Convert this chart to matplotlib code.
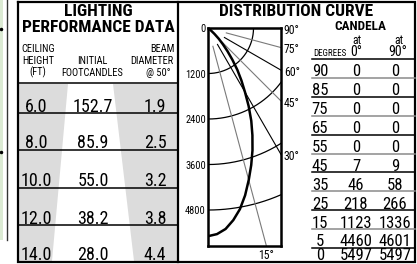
import numpy as np
import matplotlib
matplotlib.use("Agg")
import matplotlib.pyplot as plt
from matplotlib import font_manager as fm

# pick the narrowest sans that is installed
entries = fm.fontManager.ttflist
names = {f.name for f in entries}
FAM, STRETCH, K = 'Liberation Sans', 'normal', 0.88
for cand in ['Liberation Sans Narrow', 'Roboto Condensed', 'Open Sans Condensed']:
    if cand in names:
        FAM, STRETCH, K = cand, 'normal', 1.0
        break
else:
    if any(f.name == 'DejaVu Sans' and f.stretch == 'condensed' for f in entries):
        FAM, STRETCH, K = 'DejaVu Sans', 'condensed', 0.9
plt.rcParams['font.family'] = [FAM, 'DejaVu Sans']
plt.rcParams['font.stretch'] = STRETCH

# lighting performance table
ceiling_ft = [6.0, 8.0, 10.0, 12.0, 14.0]
footcandles = [152.7, 85.9, 55.0, 38.2, 28.0]
beam_dia = [1.9, 2.5, 3.2, 3.8, 4.4]

# candela table
degrees = [90, 85, 75, 65, 55, 45, 35, 25, 15, 5, 0]
cd_at_0 = [0, 0, 0, 0, 0, 7, 46, 218, 1123, 4460, 5497]
cd_at_90 = [0, 0, 0, 0, 0, 9, 58, 266, 1336, 4601, 5497]

# distribution curve as drawn
curve_deg = [0, 2.5, 5, 7.5, 10, 12.5, 15, 17.5, 20, 22.5, 25, 27.5, 30,
             32.5, 35, 37.5, 40, 42.5, 45, 47.5, 50, 52.5, 55]
curve_cd = [5490, 5440, 5320, 5110, 4850, 4520, 4150, 3790, 3430, 3060, 2700, 2320, 1950,
            1640, 1350, 1060, 800, 580, 400, 230, 100, 30, 0]

scale_cd = [0, 1200, 2400, 3600, 4800]
ray_deg = [15, 30, 45, 60, 75]
label_deg = [90, 75, 60, 45, 30]

GRAY = '#dcdcdc'
W, H = 417, 264

fig = plt.figure(figsize=(W / 100, H / 100), dpi=100)
bg = fig.add_axes([0, 0, 1, 1])
bg.set_xlim(0, W)
bg.set_ylim(H, 0)
bg.axis('off')

# scrap of the neighbouring panel on the far left
bg.fill([0, 3, 3, 0], [0, 0, 240, 240], color='#dbead3', lw=0)
bg.plot([7.5, 7.5], [0, 240], color='#333333', lw=1.0)
bg.plot([1.5, 1.5], [29, 152], 'o', color='k', ms=1.5)

# beam shading behind the rows
bg.fill([19, 68, 52, 19], [84, 84, 261, 261], color=GRAY, lw=0)
bg.fill([113, 177, 177, 134], [84, 84, 261, 261], color=GRAY, lw=0)

# frame and dividers
bg.plot([18, 415.5, 415.5, 18, 18], [2, 2, 262, 262, 2], color='k', lw=1.6, solid_joinstyle='miter')
bg.plot([178, 178], [2, 262], color='k', lw=1.6)
for y in [83, 113, 150, 188, 225]:
    bg.plot([18, 178], [y, y], color='k', lw=1.1)

# left table text
title = dict(ha='center', va='baseline', fontsize=12.5 * K, weight='bold')
bg.text(98, 16.5, 'LIGHTING', **title)
bg.text(98, 32.5, 'PERFORMANCE DATA', **title)
hdr = dict(ha='center', va='baseline', fontsize=7.5 * K)
bg.text(38, 52.5, 'CEILING', **hdr)
bg.text(38, 64, 'HEIGHT', **hdr)
bg.text(38, 75.5, '(FT)', **hdr)
bg.text(92, 64, 'INITIAL', **hdr)
bg.text(92, 75.5, 'FOOTCANDLES', **hdr)
bg.text(162, 52.5, 'BEAM', **hdr)
bg.text(152, 64, 'DIAMETER', **hdr)
bg.text(158, 75.5, '@ 50°', **hdr)

row_base = [111.5, 148.5, 186.5, 223.5, 260.5]
for yb, h, fc, bd in zip(row_base, ceiling_ft, footcandles, beam_dia):
    bg.text(36, yb, f'{h:.1f}', ha='center', va='baseline', fontsize=13 * K)
    bg.text(93, yb, f'{fc:.1f}', ha='center', va='baseline', fontsize=13 * K)
    bg.text(155, yb, f'{bd:.1f}', ha='center', va='baseline', fontsize=13 * K)

# distribution panel headers
bg.text(296, 16, 'DISTRIBUTION CURVE', **title)
bg.text(360, 29.5, 'CANDELA', ha='center', va='baseline', fontsize=9.5 * K, weight='bold')
bg.text(357, 43.5, 'at', ha='center', va='baseline', fontsize=8.5 * K)
bg.text(399, 43.5, 'at', ha='center', va='baseline', fontsize=8.5 * K)
bg.text(356, 56, '0°', ha='center', va='baseline', fontsize=10 * K)
bg.text(398, 56, '90°', ha='center', va='baseline', fontsize=10 * K)
bg.text(330, 55.5, 'DEGREES', ha='center', va='baseline', fontsize=6.5 * K)

# candela table
row_step = 18.9
for k, (d, c0, c90) in enumerate(zip(degrees, cd_at_0, cd_at_90)):
    top = 59 + row_step * k
    bg.plot([312, 415], [top, top], color='k' if k % 2 == 0 else '#8a8a8a', lw=1.1)
    yb = min(top + row_step - 1.5, 260.5)
    bg.text(320, yb, str(d), ha='center', va='baseline', fontsize=12 * K)
    bg.text(356, yb, str(c0), ha='center', va='baseline', fontsize=12 * K)
    bg.text(395, yb, str(c90), ha='center', va='baseline', fontsize=12 * K)

# polar distribution plot, origin at the top-left corner of the box
cd_per_px = 26.37
box = (208, 28, 281, 246)
ax = fig.add_axes([box[0] / W, 1 - box[3] / H, (box[2] - box[0]) / W, (box[3] - box[1]) / H])
xmax = (box[2] - box[0]) * cd_per_px
ymin = -(box[3] - box[1]) * cd_per_px
ax.set_xlim(0, xmax)
ax.set_ylim(ymin, 0)

t = np.radians(np.linspace(0, 90, 200))
for r in scale_cd[1:]:
    ax.plot(r * np.sin(t), -r * np.cos(t), color='k', lw=0.9)

for i, a in enumerate(ray_deg):
    ra = np.radians(a)
    r = np.array([500, 9000])
    ax.plot(r * np.sin(ra), -r * np.cos(ra), color='#7a7a7a' if i % 2 == 0 else 'k', lw=0.8)

ca = np.radians(curve_deg)
cc = np.array(curve_cd)
ax.plot(cc * np.sin(ca), -cc * np.cos(ca), color='k', lw=1.8)

ax.set_xticks([])
ax.set_yticks([-c for c in scale_cd])
ax.set_yticklabels([str(c) for c in scale_cd])
ax.tick_params(length=0, pad=1.5, labelsize=7.5 * K)
for s in ax.spines.values():
    s.set_linewidth(1.8)

for a in label_deg:
    y = 0 if a == 90 else -xmax / np.tan(np.radians(a))
    ax.annotate(f'{a}°', (xmax, y), xytext=(2, -1.5), textcoords='offset points',
                ha='left', va='center', fontsize=8.5 * K, annotation_clip=False)
ax.annotate('15°', (-ymin * np.tan(np.radians(15)), ymin), xytext=(0, -2.5),
            textcoords='offset points', ha='center', va='top', fontsize=8.5 * K,
            annotation_clip=False)

fig.savefig('out.png', dpi=100)
